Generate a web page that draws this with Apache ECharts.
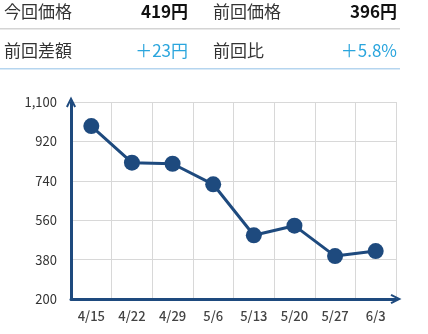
<!DOCTYPE html>
<html><head><meta charset="utf-8">
<script src="https://cdn.jsdelivr.net/npm/echarts@6/dist/echarts.min.js"></script>
<style>html,body{margin:0;padding:0;background:#fff}#c{width:428px;height:334px}</style>
</head><body><div id="c"></div>
<script>
const categories = ['4/15','4/22','4/29','5/6','5/13','5/20','5/27','6/3'];
const prices = [990, 823, 818, 724, 491, 535, 396, 419];
const yTicks = [200, 380, 560, 740, 920, 1100];
const summaryLabels = ['今回価格','前回価格','前回差額','前回比'];
const summaryValues = ['419円','396円','＋23円','＋5.8%'];

const FONT = '"Noto Sans CJK JP","Noto Sans",sans-serif';
const DARK = '#1e4a7e';
const CYAN = '#2aa5dd';
const chevron = 'path://M0,10 L5,0 L10,10 L8.2,11 L5,4.2 L1.8,11 Z';

const chart = echarts.init(document.getElementById('c'));
const gfx = [];
const rowsY = [15, 54];
const lx = [4, 213];
const rx = [188, 397];
for (let i = 0; i < 4; i++) {
  const r = Math.floor(i / 2), c = i % 2;
  gfx.push({type:'text', left: lx[c], top: rowsY[r] - 12,
    style:{text: summaryLabels[i], font: '17px ' + FONT, fill:'#333'}});
  gfx.push({type:'text', right: 428 - rx[c], top: rowsY[r] - 12,
    style:{text: summaryValues[i], font: (r === 0 ? 'bold ' : '') + '17px ' + FONT, fill: r === 0 ? '#111' : CYAN, textAlign:'right'}});
}
gfx.push({type:'rect', shape:{x:0,y:28,width:400,height:1.5}, style:{fill:'#d4d4d4'}});
gfx.push({type:'rect', shape:{x:0,y:68,width:400,height:1.5}, style:{fill:'#b5d5ef'}});

chart.setOption({
  animation:false,
  graphic: gfx,
  grid:{left:71, right:32, top:102, bottom:35},
  xAxis:{type:'category', data:categories, boundaryGap:true,
    axisLine:{lineStyle:{color:DARK, width:3}, symbol:['none', chevron], symbolSize:[14,11], symbolOffset:[0,0]},
    axisTick:{show:false},
    splitLine:{show:true, lineStyle:{color:'#d8d8d8', width:1}},
    axisLabel:{color:'#444', fontSize:13, fontFamily:FONT, fontWeight:500, margin:11}},
  yAxis:{type:'value', min:yTicks[0], max:yTicks[yTicks.length-1], interval:180,
    axisLine:{show:true, lineStyle:{color:DARK, width:3}, symbol:['none', chevron], symbolSize:[14,11], symbolOffset:[0,0]},
    axisTick:{show:false},
    splitLine:{show:true, lineStyle:{color:'#d8d8d8', width:1}},
    axisLabel:{color:'#333', fontSize:13, fontFamily:FONT, margin:14,
      formatter: v => v.toLocaleString('en-US')}},
  series:[{type:'line', data:prices, symbol:'circle', symbolSize:16,
    lineStyle:{color:DARK, width:3}, itemStyle:{color:DARK}}]
});
</script></body></html>
